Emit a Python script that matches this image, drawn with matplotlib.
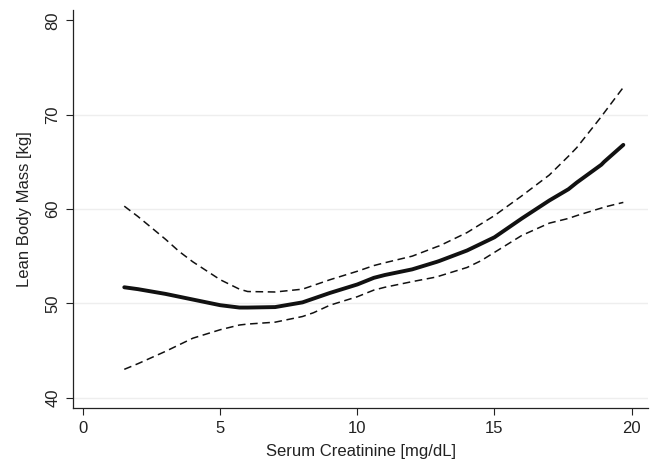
import matplotlib
matplotlib.use("Agg")
import matplotlib.pyplot as plt

plt.rcParams['font.family'] = ['Liberation Sans', 'DejaVu Sans']

x = [1.5, 2, 3, 3.5, 4, 5, 5.7, 6, 7, 8, 8.4, 9, 10, 10.6, 11, 12, 12.9, 13, 14, 14.5,
     15, 16, 17, 17.7, 18, 18.9, 19, 19.7]
fit = [51.7, 51.5, 51.0, 50.7, 50.4, 49.8, 49.55, 49.55, 49.6, 50.1, 50.5, 51.1, 52.0, 52.7, 53.0,
       53.6, 54.4, 54.5, 55.6, 56.3, 57.0, 59.0, 60.9, 62.1, 62.8, 64.7, 65.0, 66.8]
upper = [60.3, 59.2, 56.8, 55.5, 54.4, 52.5, 51.5, 51.25, 51.2, 51.5, 51.9, 52.5, 53.4, 54.0, 54.3,
         55.0, 56.0, 56.1, 57.5, 58.4, 59.3, 61.4, 63.6, 65.6, 66.5, 69.8, 70.2, 72.9]
lower = [43.0, 43.6, 44.9, 45.6, 46.3, 47.2, 47.7, 47.8, 48.0, 48.6, 49.0, 49.8, 50.7, 51.4, 51.7,
         52.3, 52.8, 52.9, 53.8, 54.5, 55.4, 57.2, 58.5, 59.0, 59.3, 60.1, 60.2, 60.7]

xticks = [0, 5, 10, 15, 20]
yticks = [40, 50, 60, 70, 80]
grid_y = [40, 50, 60, 70]

fig = plt.figure(figsize=(6.55, 4.61), dpi=100)
ax = fig.add_axes([73/655, 1-408/461, (648-73)/655, (408-10)/461])

for g in grid_y:
    ax.axhline(g, color='#eeeeee', lw=1.0, zorder=0)

ax.plot(x, upper, color='#111111', lw=1.1, ls=(0, (5, 3)))
ax.plot(x, lower, color='#111111', lw=1.1, ls=(0, (5, 3)))
ax.plot(x, fit, color='#111111', lw=2.8, solid_capstyle='round', solid_joinstyle='round')

ax.set_xlim(-0.37, 20.6)
ax.set_ylim(38.9, 81.1)
ax.set_xticks(xticks)
ax.set_yticks(yticks)
ax.set_yticklabels([str(t) for t in yticks], rotation=90, va='center')
ax.tick_params(axis='both', direction='out', length=5, width=0.8, colors='#222222',
               labelsize=12, labelcolor='#222222', pad=4)
for s in ['top', 'right']:
    ax.spines[s].set_visible(False)
for s in ['left', 'bottom']:
    ax.spines[s].set_color('#222222')
    ax.spines[s].set_linewidth(0.9)

ax.set_xlabel('Serum Creatinine [mg/dL]', fontsize=12, color='#222222', labelpad=6)
ax.set_ylabel('Lean Body Mass [kg]', fontsize=12, color='#222222', labelpad=10)

fig.savefig('out.png', dpi=100)
